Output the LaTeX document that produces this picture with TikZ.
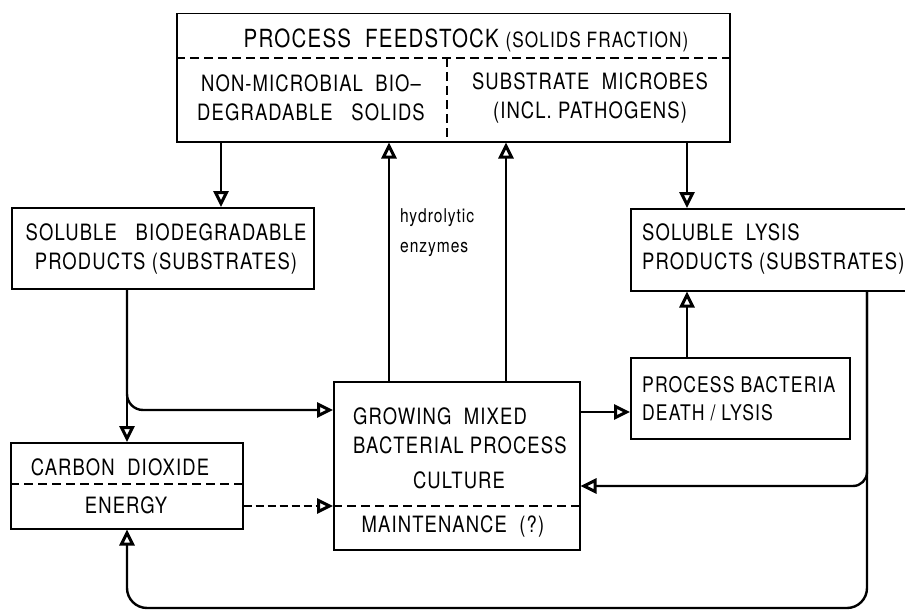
\documentclass[tikz,border=0pt]{standalone}
\usepackage{fontspec}
\setmainfont[FakeStretch=0.82,LetterSpace=5]{TeX Gyre Heros}
\usetikzlibrary{arrows.meta,calc}
\begin{document}
\begin{tikzpicture}[x=1pt,y=-1pt,
  box/.style={draw,line width=1.5pt,anchor=north west,inner sep=0pt},
  lbl/.style={inner sep=0pt,font=\fontsize{22.5}{29}\selectfont},
  arr/.style={line width=2.4pt,-{Triangle[open,length=16pt,width=15pt,line width=3pt]}},
  divide/.style={line width=1.2pt,dash pattern=on 9pt off 5pt}]
\useasboundingbox (0,0) rectangle (905,610);

% boxes
\node[box,minimum width=553pt,minimum height=128pt] (feed) at (176,13) {};
\node[box,minimum width=302pt,minimum height=81pt] (sbp) at (11,207) {};
\node[box,minimum width=232pt,minimum height=86pt] (co2) at (10,442) {};
\node[box,minimum width=246pt,minimum height=168pt] (grow) at (333,381) {};
\node[box,minimum width=280pt,minimum height=82pt] (lysis) at (630,208) {};
\node[box,minimum width=219pt,minimum height=81pt] (death) at (630,357) {};

% internal dividers
\draw[divide] (feed.west |- 0,58) -- (feed.east |- 0,58);
\draw[divide] (447,58) -- (feed.south -| 447,0);
\draw[divide] (co2.west |- 0,484) -- (co2.east |- 0,484);
\draw[divide] (grow.west |- 0,506) -- (grow.east |- 0,506);

% texts
\node[lbl,font=\fontsize{25}{29}\selectfont] (tfeed) at (466,40)
  {PROCESS~~FEEDSTOCK~{\fontsize{21}{22}\selectfont(SOLIDS FRACTION)}};
\node[lbl,align=center] (tnonmic) at (311,98) {NON-MICROBIAL~~BIO--\\DEGRADABLE~~~SOLIDS};
\node[lbl,align=center] (tsubmic) at (590,98) {SUBSTRATE~~MICROBES\\(INCL.~PATHOGENS)};
\node[lbl,align=center] (tsbp) at (166,249) {SOLUBLE~~~BIODEGRADABLE\\PRODUCTS (SUBSTRATES)};
\node[lbl] (tco2) at (120,467) {CARBON~~DIOXIDE};
\node[lbl] (tenergy) at (126,505) {ENERGY};
\node[lbl,align=left,anchor=west] (tgrow) at (353,431) {GROWING~~MIXED\\BACTERIAL PROCESS};
\node[lbl] (tculture) at (459,480) {CULTURE};
\node[lbl] (tmaint) at (453,526) {MAINTENANCE~~(?)};
\node[lbl,align=left,anchor=west] (tlysis) at (642,249) {SOLUBLE~~LYSIS\\PRODUCTS (SUBSTRATES)};
\node[lbl,align=left,anchor=west,font=\fontsize{21.5}{28}\selectfont] (tdeath) at (642,399) {PROCESS~BACTERIA\\DEATH / LYSIS};
\node[lbl,align=left,anchor=west,font=\fontsize{19}{30}\selectfont] (tenz) at (400,233) {hydrolytic\\enzymes};

% connectors
\draw[arr] (feed.south -| 221,0) -- (sbp.north -| 221,0);
\draw[arr] (feed.south -| 687,0) -- (lysis.north -| 687,0);
\draw[arr] (death.north -| 687,0) -- (lysis.south -| 687,0);
\draw[arr] (grow.north -| 389,0) -- (feed.south -| 389,0);
\draw[arr] (grow.north -| 506,0) -- (feed.south -| 506,0);
\draw[arr] (grow.east |- 0,412) -- (death.west |- 0,412);
\draw[arr] (sbp.south -| 127,0) -- (co2.north -| 127,0);
\draw[arr,rounded corners=16pt] (sbp.south -| 127,0) |- (grow.west |- 0,410);
\draw[arr,dash pattern=on 8pt off 4pt] (co2.east |- 0,506) -- (grow.west |- 0,506);
\draw[arr,rounded corners=14pt] (lysis.south -| 867,0) |- (grow.east |- 0,486);
\draw[arr,rounded corners=20pt] (lysis.south -| 867,0) |- (127,608) -- (co2.south -| 127,0);
\end{tikzpicture}
\end{document}
